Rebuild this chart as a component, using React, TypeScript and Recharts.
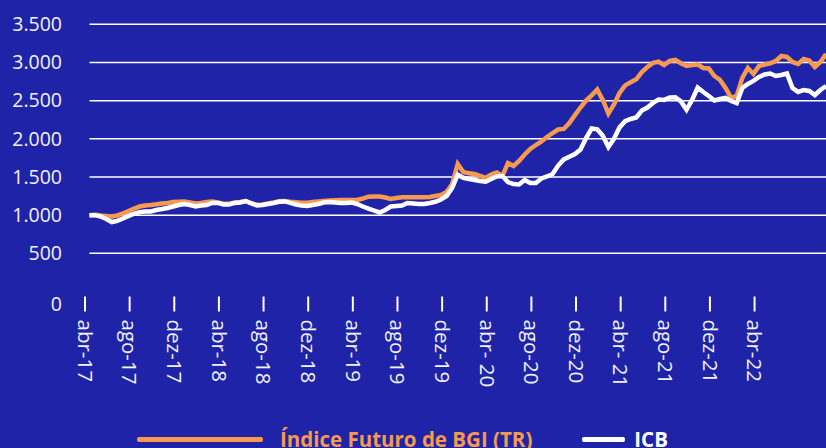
import React from "react";
import { LineChart, Line, XAxis, YAxis, ReferenceLine } from "recharts";

// months since abr-17, half-month steps
const startMonth = 0.4;
const stepMonths = 0.5;

const tickMonths = [0, 4, 8, 12, 16, 20, 24, 28, 32, 36, 40, 44, 48, 52, 56, 60];
const tickLabels = [
  "abr-17", "ago-17", "dez-17", "abr-18", "ago-18", "dez-18", "abr-19", "ago-19",
  "dez-19", "abr- 20", "ago-20", "dez-20", "abr- 21", "ago-21", "dez-21", "abr-22",
];

const yTicks = [0, 500, 1000, 1500, 2000, 2500, 3000, 3500];
const gridValues = [500, 1000, 1500, 2000, 2500, 3000, 3500];

const bgiValues = [
  1000, 1005, 995, 990, 983, 996, 1022, 1055, 1087, 1113,
  1127, 1133, 1142, 1153, 1160, 1172, 1176, 1179, 1166, 1153,
  1160, 1172, 1179, 1165, 1150, 1148, 1165, 1172, 1185, 1158,
  1135, 1140, 1152, 1165, 1182, 1186, 1176, 1170, 1163, 1163,
  1172, 1179, 1186, 1192, 1195, 1199, 1199, 1199, 1199, 1218,
  1242, 1245, 1245, 1231, 1212, 1225, 1234, 1234, 1234, 1234,
  1234, 1238, 1251, 1264, 1303, 1408, 1670, 1566, 1548, 1539,
  1513, 1487, 1533, 1559, 1513, 1683, 1644, 1710, 1795, 1867,
  1919, 1965, 2024, 2076, 2122, 2129, 2207, 2310, 2410, 2500,
  2570, 2645, 2509, 2330, 2450, 2600, 2700, 2740, 2780, 2875,
  2940, 2995, 3010, 2967, 3020, 3035, 2990, 2954, 2967, 2974,
  2928, 2921, 2823, 2771, 2666, 2535, 2561, 2797, 2928, 2849,
  2954, 2974, 2990, 3020, 3085, 3072, 3007, 2980, 3046, 3027,
  2941, 3007, 3111,
];

const icbValues = [
  1000, 1000, 983, 950, 910, 925, 956, 990, 1020, 1040,
  1048, 1048, 1068, 1080, 1094, 1113, 1133, 1146, 1133, 1113,
  1127, 1133, 1160, 1160, 1140, 1140, 1160, 1166, 1185, 1153,
  1127, 1133, 1146, 1160, 1176, 1180, 1160, 1140, 1127, 1120,
  1133, 1146, 1166, 1172, 1166, 1160, 1160, 1166, 1146, 1113,
  1087, 1061, 1035, 1068, 1113, 1120, 1127, 1160, 1153, 1146,
  1146, 1160, 1176, 1205, 1251, 1356, 1530, 1490, 1474, 1461,
  1448, 1438, 1474, 1507, 1513, 1434, 1408, 1402, 1461, 1421,
  1421, 1480, 1507, 1539, 1650, 1730, 1766, 1800, 1860, 2010,
  2135, 2125, 2040, 1893, 2000, 2150, 2230, 2260, 2280, 2370,
  2410, 2470, 2515, 2510, 2540, 2545, 2490, 2380, 2509, 2672,
  2613, 2561, 2502, 2522, 2535, 2496, 2469, 2666, 2718, 2758,
  2810, 2843, 2856, 2823, 2836, 2856, 2666, 2614, 2640, 2627,
  2574, 2640, 2692,
];

const data = bgiValues.map((bgi, i) => ({
  t: startMonth + i * stepMonths,
  bgi,
  icb: icbValues[i],
}));

const BG = "#1F23A8";
const ORANGE = "#F79A50";
const FONT = "'Open Sans', sans-serif";

const fmt = (v: number) => String(v).replace(/\B(?=(\d{3})+(?!\d))/g, ".");

const YTick = (props: any) => {
  const { x, y, payload } = props;
  const dy = payload.value === 0 ? 12.5 : 0;
  return (
    <text x={x - 23} y={y + dy} dy="0.35em" textAnchor="end" fill="#F2F2F8" fontSize={19.5} fontFamily={FONT}>
      {fmt(payload.value)}
    </text>
  );
};

const XTick = (props: any) => {
  const { x, y, payload } = props;
  const idx = tickMonths.indexOf(payload.value);
  return (
    <g>
      <line x1={x} x2={x} y1={y + 5} y2={y + 20} stroke="#fff" strokeWidth={2} />
      <text
        transform={`translate(${x},${y + 28}) rotate(90)`}
        dy="0.35em"
        textAnchor="start"
        fill="#F2F2F8"
        fontSize={20.5}
        fontFamily={FONT}
      >
        {tickLabels[idx]}
      </text>
    </g>
  );
};

export default function App() {
  return (
    <div style={{ position: "fixed", left: 0, top: 0, width: 826, height: 448, background: BG, overflow: "hidden" }}>
      <LineChart width={826} height={448} data={data} margin={{ top: 24.3, right: 0, bottom: 36.5, left: 0 }}>
        <XAxis
          dataKey="t"
          type="number"
          domain={[0, 66.4]}
          ticks={tickMonths}
          allowDataOverflow
          axisLine={false}
          tickLine={false}
          tickSize={0}
          tickMargin={0}
          height={120}
          tick={<XTick />}
        />
        <YAxis
          domain={[0, 3500]}
          ticks={yTicks}
          axisLine={false}
          tickLine={false}
          tickSize={0}
          tickMargin={0}
          width={85}
          tick={<YTick />}
        />
        {gridValues.map((v) => (
          <ReferenceLine
            key={v}
            segment={[{ x: startMonth, y: v }, { x: 66.4, y: v }]}
            stroke="#fff"
            strokeWidth={1.5}
          />
        ))}
        <Line type="linear" dataKey="bgi" stroke={ORANGE} strokeWidth={4.5} dot={false} isAnimationActive={false} />
        <Line type="linear" dataKey="icb" stroke="#fff" strokeWidth={4.5} dot={false} isAnimationActive={false} />
      </LineChart>
      <div
        style={{
          position: "absolute",
          left: 137,
          top: 424,
          display: "flex",
          alignItems: "center",
          fontFamily: FONT,
          fontWeight: 700,
          fontSize: 20.5,
          lineHeight: "30px",
          whiteSpace: "nowrap",
        }}
      >
        <span style={{ display: "inline-block", width: 126, height: 5, background: ORANGE, borderRadius: 2 }} />
        <span style={{ color: ORANGE, marginLeft: 17 }}>Índice Futuro de BGI (TR)</span>
        <span style={{ display: "inline-block", width: 43, height: 5, background: "#fff", borderRadius: 2, marginLeft: 50 }} />
        <span style={{ color: "#fff", marginLeft: 9 }}>ICB</span>
      </div>
    </div>
  );
}
